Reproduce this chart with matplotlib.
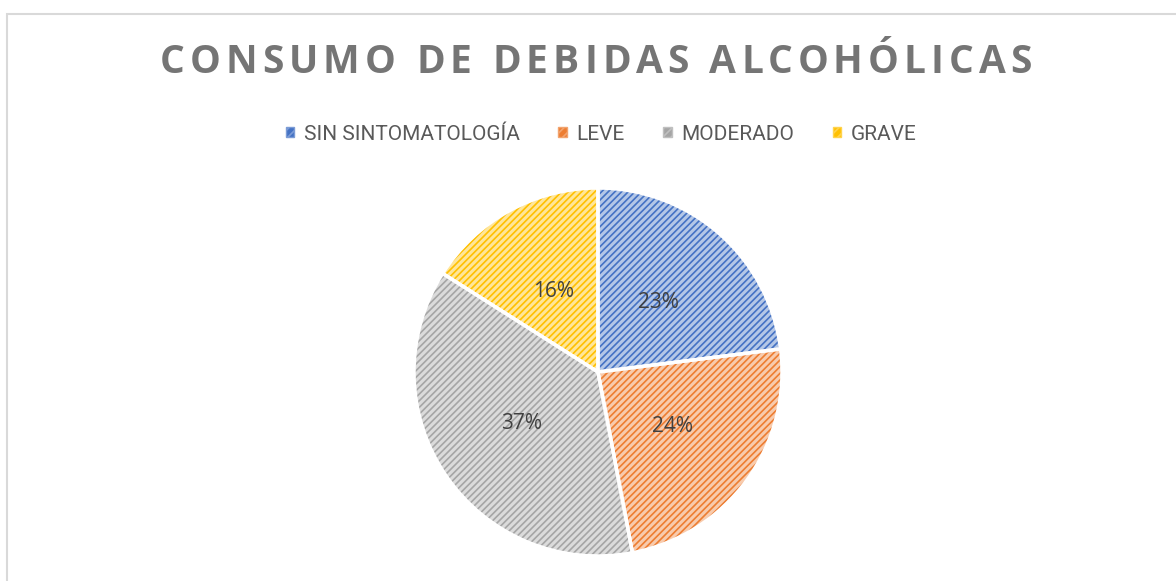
import matplotlib
matplotlib.use('Agg')
import matplotlib.pyplot as plt
from matplotlib.patches import Rectangle
from matplotlib.font_manager import FontProperties
import numpy as np

# data
categories = ['SIN SINTOMATOLOGÍA', 'LEVE', 'MODERADO', 'GRAVE']
values = [23, 24, 37, 16]
colors = ['#4472C4', '#ED7D31', '#A5A5A5', '#FFC000']
title = 'CONSUMO DE DEBIDAS ALCOHÓLICAS'

W, H = 1176, 581
fig = plt.figure(figsize=(W / 100, H / 100), dpi=100)
fig.patch.set_facecolor('white')

# chart area border (only left and top visible in the crop)
fig.patches.append(Rectangle((7 / W, -0.05), 1.2, 1 - 14 / H + 0.05,
                             transform=fig.transFigure, fill=False,
                             edgecolor='#D9D9D9', linewidth=1.5))


def tint(c, f):
    rgb = np.array(matplotlib.colors.to_rgb(c))
    return tuple(rgb + (1 - rgb) * f)


# pie axes, centre at (598, 372) px, radius 184 px
R = 184
cx, cy = 598, H - 372
ax = fig.add_axes([(cx - R) / W, (cy - R) / H, 2 * R / W, 2 * R / H])
ax.axis('off')

plt.rcParams['hatch.linewidth'] = 1.2
wedges, texts, autotexts = ax.pie(values, startangle=90, counterclock=False,
                                  radius=1, autopct='%1.0f%%', pctdistance=0.5,
                                  colors=[tint(c, 0.6) for c in colors],
                                  wedgeprops=dict(linewidth=0),
                                  textprops=dict(fontsize=15, color='#404040',
                                                 family='Open Sans'))
for w, c in zip(wedges, colors):
    w.set_hatch('/////')
    w.set_edgecolor(c)
    w.set_linewidth(0)

# white separators
ax.pie(values, startangle=90, counterclock=False, radius=1,
       wedgeprops=dict(linewidth=2.5, edgecolor='white', facecolor='none'))
ax.set_xlim(-1, 1)
ax.set_ylim(-1, 1)

# title with wide letter spacing, drawn char by char
fig.canvas.draw()
renderer = fig.canvas.get_renderer()
tsize = 28
tfont = FontProperties(family='Open Sans', weight='bold', size=tsize)


def text_w(s):
    if not s:
        return 0.0
    return renderer.get_text_width_height_descent(s, tfont, ismath=False)[0]


offsets = [text_w(title[:i]) for i in range(len(title) + 1)]
target = 872
spacing = (target - offsets[-1]) / (len(title) - 1)
x0 = 596 - target / 2
for i, ch in enumerate(title):
    if ch != ' ':
        fig.text((x0 + offsets[i] + spacing * i) / W, 1 - 62.5 / H, ch,
                 va='center', ha='left', fontproperties=tfont, color='#757575')

# legend
handles = [Rectangle((0, 0), 1, 1, facecolor=c, edgecolor=tint(c, 0.3), hatch='////')
           for c in colors]
leg = fig.legend(handles, categories, loc='center', bbox_to_anchor=(601 / W, 1 - 134 / H),
                 ncol=4, frameon=False, handlelength=0.42, handleheight=0.42,
                 handletextpad=0.45, columnspacing=1.85,
                 prop=dict(family='Roboto', size=15))
for t in leg.get_texts():
    t.set_color('#595959')

plt.savefig('out.png', dpi=100)
